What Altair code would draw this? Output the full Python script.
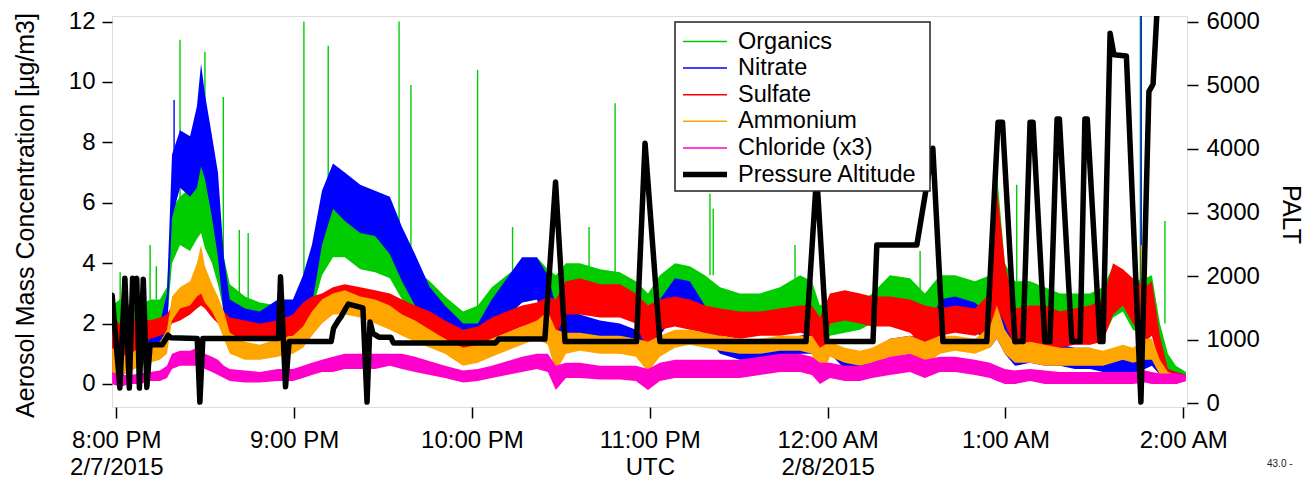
import json
import altair as alt
import pandas as pd

FONT = "Liberation Sans"

# Time axis: minutes after 8:00 PM UTC on 2/7/2015
t_grid = [-1.4, 1.2, 4.6, 8.0, 11.4, 14.7, 17.1, 18.8, 21.5, 24.9,
          27.2, 28.6, 29.9, 32.3, 34.3, 36.3, 38.3, 43.4, 48.4, 54.5,
          59.6, 63.0, 66.0, 69.4, 73.1, 77.1, 82.3, 87.3, 92.3, 96.4,
          100.8, 105.8, 110.9, 117.0, 122.0, 126.7, 131.8, 136.9, 141.9, 145.6,
          148.3, 151.7, 156.4, 163.2, 169.9, 175.3, 179.4, 183.4, 188.5, 193.5,
          198.6, 203.7, 210.4, 217.2, 223.9, 230.7, 234.7, 237.4, 240.8, 245.8,
          250.9, 255.0, 261.0, 267.8, 272.8, 277.9, 283.0, 289.7, 294.8, 297.1,
          299.8, 303.2, 308.3, 313.3, 318.4, 323.4, 328.5, 332.9, 336.3, 339.6,
          343.0, 347.1, 349.4, 352.1, 354.8, 357.5, 360.9]

# Low / high envelope of each noisy mass-concentration record (ug/m3)
org_lo = [1.0, 0.8, 1.0, 1.2, 1.7, 1.8, 2.0, 4.0, 4.6, 4.4,
          4.8, 5.0, 4.5, 4.0, 3.3, 2.4, 1.9, 1.8, 1.7, 1.6,
          1.7, 1.9, 2.4, 3.6, 4.2, 4.2, 3.8, 3.7, 3.5, 2.8,
          2.4, 2.0, 1.6, 1.4, 1.6, 2.0, 2.4, 2.7, 2.8, 2.5,
          2.4, 2.6, 2.8, 2.7, 2.6, 2.0, 1.5, 2.4, 2.8, 2.7,
          2.4, 2.2, 2.0, 2.0, 2.1, 2.3, 2.0, 1.0, 1.6, 1.7,
          1.8, 2.0, 2.3, 2.2, 1.6, 2.4, 2.5, 2.4, 2.2, 2.5,
          1.8, 1.5, 1.4, 1.5, 1.4, 1.4, 1.3, 1.5, 2.2, 2.4,
          1.8, 1.6, 1.8, 0.8, 0.2, 0.0, 0.2]
org_hi = [2.6, 2.8, 2.6, 2.6, 2.8, 2.8, 3.2, 5.8, 6.2, 6.5,
          8.6, 8.9, 8.0, 7.0, 6.0, 4.2, 3.3, 2.9, 2.7, 2.6,
          2.6, 3.0, 4.0, 5.5, 6.5, 6.3, 5.8, 5.5, 5.3, 4.8,
          3.8, 3.4, 2.9, 2.4, 2.6, 3.2, 3.6, 4.0, 4.2, 3.8,
          3.6, 4.0, 4.0, 3.8, 3.7, 3.4, 3.0, 3.6, 4.0, 3.9,
          3.6, 3.2, 3.0, 3.0, 3.2, 3.6, 3.4, 2.6, 2.8, 2.8,
          2.7, 3.0, 3.6, 3.5, 3.0, 3.6, 3.6, 3.4, 3.6, 7.0,
          4.0, 3.4, 3.4, 3.2, 3.0, 3.0, 3.0, 3.2, 3.9, 3.8,
          3.4, 3.5, 3.6, 2.0, 1.0, 0.6, 0.4]

nit_lo = [0.3, 0.2, 0.5, 0.8, 1.3, 1.4, 1.6, 5.5, 6.5, 6.2,
          6.5, 7.2, 6.8, 5.5, 4.2, 2.2, 1.6, 1.5, 1.5, 1.6,
          1.6, 1.6, 2.6, 4.6, 5.8, 5.4, 5.0, 4.9, 4.3, 3.4,
          2.6, 2.0, 1.5, 1.0, 1.1, 1.6, 2.2, 2.7, 2.8, 1.8,
          1.3, 1.4, 1.3, 1.2, 1.0, 1.0, 0.9, 1.6, 2.3, 2.2,
          1.6, 1.0, 0.8, 0.8, 0.9, 1.0, 1.0, 0.6, 1.0, 0.5,
          0.4, 0.6, 1.0, 1.1, 0.6, 1.8, 1.9, 1.8, 1.2, 1.5,
          1.0, 0.6, 0.7, 0.6, 0.6, 0.5, 0.5, 0.4, 0.3, 0.3,
          0.3, 0.5, 0.6, 0.3, 0.2, 0.1, 0.1]
nit_hi = [1.8, 1.6, 1.8, 1.9, 1.9, 2.0, 3.0, 7.6, 8.4, 8.2,
          9.2, 10.6, 9.6, 8.2, 7.0, 4.2, 2.8, 2.5, 2.4, 2.8,
          2.8, 3.6, 4.6, 6.4, 7.3, 7.0, 6.6, 6.4, 6.2, 5.2,
          4.3, 3.2, 2.6, 2.0, 2.0, 2.8, 3.5, 4.2, 4.2, 3.6,
          2.6, 2.5, 2.3, 2.1, 2.0, 1.8, 1.8, 2.8, 3.5, 3.4,
          2.6, 1.6, 1.4, 1.4, 1.5, 1.6, 1.7, 1.4, 1.5, 1.0,
          0.9, 1.1, 1.5, 1.6, 1.5, 2.8, 2.9, 2.7, 2.2, 4.0,
          2.0, 1.6, 1.5, 1.4, 1.3, 1.2, 1.2, 1.0, 0.9, 0.8,
          0.8, 1.2, 1.2, 0.7, 0.5, 0.4, 0.3]

sul_lo = [0.6, 0.5, 0.8, 1.2, 1.5, 1.6, 1.7, 2.0, 2.1, 2.3,
          2.5, 2.6, 2.5, 2.2, 2.0, 1.8, 1.6, 1.5, 1.5, 1.5,
          1.6, 1.8, 2.0, 2.3, 2.4, 2.5, 2.4, 2.3, 2.1, 2.0,
          1.9, 1.7, 1.5, 1.1, 1.2, 1.5, 1.7, 1.9, 2.0, 1.9,
          1.6, 2.3, 2.3, 2.2, 2.2, 2.0, 1.0, 1.8, 1.9, 1.8,
          1.7, 1.6, 1.5, 1.6, 1.6, 1.7, 1.6, 0.4, 2.0, 2.1,
          2.0, 1.9, 1.9, 1.7, 1.2, 1.6, 1.7, 1.6, 1.8, 2.5,
          2.0, 1.2, 1.3, 1.2, 1.2, 1.3, 1.3, 1.4, 2.3, 2.6,
          2.0, 1.4, 1.6, 0.6, 0.1, 0.0, 0.1]
sul_hi = [2.2, 2.0, 2.1, 2.2, 2.1, 2.2, 2.3, 2.6, 2.9, 3.1,
          3.6, 3.9, 3.4, 3.1, 2.8, 2.4, 2.2, 2.1, 2.0, 2.1,
          2.3, 2.7, 2.9, 3.0, 3.2, 3.3, 3.2, 3.1, 3.0, 2.8,
          2.6, 2.4, 2.1, 1.8, 1.9, 2.2, 2.4, 2.6, 2.7, 2.9,
          2.8, 3.4, 3.5, 3.3, 3.3, 3.0, 2.6, 2.8, 2.9, 2.8,
          2.6, 2.5, 2.4, 2.4, 2.5, 2.6, 2.6, 2.2, 3.0, 3.1,
          3.0, 2.9, 2.9, 2.8, 2.6, 2.5, 2.6, 2.5, 3.0, 6.5,
          4.0, 2.5, 2.6, 2.6, 2.4, 2.5, 2.6, 2.8, 4.0, 3.8,
          3.5, 3.2, 3.4, 1.6, 0.5, 0.4, 0.3]

amm_lo = [0.2, 0.3, 0.4, 0.6, 0.7, 0.8, 1.0, 2.1, 2.5, 2.6,
          2.9, 3.0, 2.7, 2.4, 2.0, 1.5, 1.0, 0.8, 0.8, 0.9,
          1.0, 1.2, 1.6, 2.0, 2.3, 2.3, 2.2, 2.0, 1.8, 1.6,
          1.4, 1.2, 1.0, 0.6, 0.7, 0.9, 1.1, 1.3, 1.5, 1.3,
          0.4, 1.0, 1.1, 1.0, 1.0, 0.9, 0.4, 0.9, 1.2, 1.3,
          1.2, 1.1, 1.0, 1.0, 1.1, 1.1, 1.0, 0.1, 0.9, 0.7,
          0.6, 0.7, 0.9, 1.0, 0.6, 1.0, 1.1, 1.0, 1.2, 1.5,
          1.0, 0.7, 0.7, 0.6, 0.6, 0.6, 0.6, 0.6, 0.7, 0.8,
          0.7, 0.8, 0.8, 0.3, 0.1, 0.1, 0.1]
amm_hi = [1.2, 0.9, 1.0, 1.2, 1.3, 1.4, 1.8, 2.9, 3.2, 3.4,
          4.0, 4.6, 3.9, 3.3, 2.9, 2.4, 1.7, 1.4, 1.3, 1.5,
          1.6, 1.9, 2.4, 2.8, 3.0, 3.1, 2.9, 2.8, 2.6, 2.3,
          2.1, 1.8, 1.5, 1.2, 1.3, 1.5, 1.7, 1.9, 2.1, 2.4,
          1.8, 1.7, 1.7, 1.6, 1.6, 1.5, 1.4, 1.6, 1.8, 1.8,
          1.7, 1.6, 1.5, 1.5, 1.6, 1.6, 1.6, 1.2, 1.4, 1.2,
          1.1, 1.2, 1.5, 1.6, 1.4, 1.6, 1.6, 1.5, 1.9, 2.6,
          1.8, 1.3, 1.4, 1.3, 1.2, 1.2, 1.2, 1.1, 1.2, 1.3,
          1.2, 1.5, 1.5, 0.8, 0.4, 0.3, 0.3]

chl_lo = [0.0, -0.1, 0.0, 0.0, 0.1, 0.1, 0.2, 0.5, 0.6, 0.6,
          0.6, 0.6, 0.5, 0.4, 0.3, 0.2, 0.1, 0.05, 0.05, 0.1,
          0.1, 0.2, 0.3, 0.4, 0.4, 0.5, 0.5, 0.5, 0.6, 0.5,
          0.4, 0.3, 0.2, 0.05, 0.1, 0.2, 0.3, 0.4, 0.5, 0.4,
          -0.2, 0.2, 0.2, 0.15, 0.15, 0.1, -0.2, 0.1, 0.2, 0.2,
          0.2, 0.2, 0.2, 0.3, 0.4, 0.4, 0.3, 0.0, 0.2, 0.1,
          0.1, 0.2, 0.3, 0.4, 0.2, 0.4, 0.4, 0.3, 0.2, 0.1,
          0.0, 0.0, 0.1, 0.0, 0.0, 0.0, 0.0, 0.0, 0.0, 0.0,
          0.0, 0.05, 0.0, 0.0, 0.0, 0.0, 0.1]
chl_hi = [0.4, 0.3, 0.3, 0.35, 0.4, 0.45, 0.6, 1.0, 1.1, 1.1,
          1.2, 1.2, 1.0, 0.9, 0.8, 0.6, 0.5, 0.45, 0.4, 0.5,
          0.5, 0.6, 0.7, 0.8, 0.9, 1.0, 1.0, 1.0, 1.0, 1.0,
          0.9, 0.75, 0.6, 0.45, 0.5, 0.6, 0.75, 0.9, 1.0, 1.0,
          0.6, 0.7, 0.7, 0.6, 0.6, 0.6, 0.5, 0.7, 0.8, 0.8,
          0.8, 0.8, 0.8, 0.9, 1.0, 1.0, 0.9, 0.7, 0.7, 0.6,
          0.6, 0.7, 0.9, 1.0, 0.8, 0.9, 0.9, 0.8, 0.7, 0.6,
          0.5, 0.45, 0.5, 0.45, 0.4, 0.4, 0.4, 0.4, 0.4, 0.4,
          0.4, 0.45, 0.4, 0.35, 0.35, 0.35, 0.3]

# Single-sample spikes (time, base, top)
org_spike_t = [1.3, 11.4, 13.5, 21.5, 29.9, 36.1, 41.5, 44.5, 63.3, 71.5,
               95.4, 99.4, 121.9, 133.7, 159.5, 168.3, 200.3, 201.4, 229.0, 271.2,
               303.8, 345.5, 353.8]
org_spike_top = [3.7, 4.6, 3.9, 11.4, 11.0, 9.5, 5.1, 5.0, 12.0, 11.2,
                 12.0, 9.9, 10.4, 5.2, 5.2, 9.3, 6.3, 5.8, 4.6, 4.4,
                 6.6, 12.2, 5.4]
org_spike_base = [2.5, 2.8, 2.8, 6.0, 8.0, 4.0, 2.9, 2.8, 2.8, 6.0,
                  4.5, 3.8, 2.5, 3.5, 3.8, 3.7, 3.6, 3.6, 3.5, 3.0,
                  3.4, 3.4, 2.0]
nit_spike_t = [19.5, 345.8]
nit_spike_top = [9.4, 12.3]
nit_spike_base = [7.5, 1.0]
amm_spike_t = [345.9]
amm_spike_top = [4.6]
amm_spike_base = [1.2]

# Pressure altitude (m)
alt_t = [-1.4, 1.2, 2.9, 4.4, 5.5, 6.2, 6.9, 7.8, 9.1, 10.3,
         11.4, 15.5, 17.5, 18.5, 27.3, 28.2, 29.2, 54.7, 55.4, 57.1,
         58.3, 72.5, 73.3, 75.0, 75.8, 77.5, 78.3, 83.2, 84.6, 85.6,
         86.6, 88.6, 92.6, 93.5, 128.0, 129.0, 144.6, 148.2, 151.4, 175.5,
         178.4, 183.4, 232.7, 236.3, 239.7, 255.3, 256.6, 270.1, 275.5, 278.9,
         293.7, 297.5, 299.0, 303.2, 305.9, 308.3, 309.3, 313.3, 315.0, 317.4,
         318.2, 322.4, 325.2, 326.8, 327.6, 331.9, 332.9, 335.3, 336.6, 340.8,
         345.7, 348.4, 349.8, 351.4]
alt_v = [1700, 240, 1965, 240, 1965, 1850, 1965, 240, 1950, 250,
         920, 920, 1070, 1030, 1020, 20, 1020, 1020, 1990, 260,
         970, 970, 1180, 1310, 1360, 1500, 1560, 1500, 20, 1280,
         1100, 1040, 1040, 950, 950, 1010, 1010, 3480, 970, 970,
         4090, 970, 970, 3600, 970, 970, 2490, 2490, 4010, 970,
         970, 4420, 4420, 970, 970, 4420, 4420, 970, 970, 4470,
         4470, 970, 970, 4470, 4470, 970, 970, 5820, 5480, 5460,
         20, 4900, 5020, 6400]

legend_names = ["Organics", "Nitrate", "Sulfate", "Ammonium", "Chloride (x3)",
                "Pressure Altitude"]
legend_colors = ["#00cc00", "#0000ff", "#ff0000", "#ffa500", "#ff00cc", "#000000"]
legend_widths = [1.5, 1.5, 1.5, 1.5, 1.5, 5.5]

tick_times = ["8:00 PM", "9:00 PM", "10:00 PM", "11:00 PM", "12:00 AM", "1:00 AM", "2:00 AM"]
tick_dates = ["2/7/2015", "", "", "UTC", "2/8/2015", "", ""]

# ---- layout (pixels) ----
W, H = 1075, 391
PAD = {"left": 112, "top": 16, "right": 117, "bottom": 73}
X_DOMAIN = [-1.45, 361.25]
C_DOMAIN = [-0.762, 12.185]
A_DOMAIN = [-58, 6090]

tick_lines = [[a, b] if b else [a] for a, b in zip(tick_times, tick_dates)]
x_label_expr = json.dumps(tick_lines) + "[round(datum.value / 60)]"

x_enc = alt.X(
    "t:Q",
    title=None,
    scale=alt.Scale(domain=X_DOMAIN, nice=False, zero=False),
    axis=alt.Axis(values=[0, 60, 120, 180, 240, 300, 360], labelExpr=x_label_expr,
                  tickSize=11, tickWidth=1.5, tickColor="#000", domain=False, grid=False,
                  labelFontSize=24, labelFont=FONT, labelColor="#000", labelPadding=10,
                  labelLineHeight=27, labelBaseline="top", labelOverlap=False,
                  labelFlush=False, labelBound=False),
)

c_axis = alt.Axis(values=[0, 2, 4, 6, 8, 10, 12], tickSize=10, tickWidth=1.5, tickColor="#000",
                  domain=False, grid=False, labelFontSize=24, labelFont=FONT, labelColor="#000",
                  labelPadding=7, orient="left",
                  title="Aerosol Mass Concentration [µg/m3]", titleFont=FONT, titleFontSize=25,
                  titleFontWeight="normal", titleColor="#000", titleAngle=270, titleX=-79,
                  titleY=199, titleAlign="center", titleBaseline="alphabetic")
c_scale = alt.Scale(domain=C_DOMAIN, nice=False, zero=False)


def band(lo, hi, color):
    df = pd.DataFrame({"t": t_grid, "lo": lo, "hi": hi})
    return alt.Chart(df).mark_area(color=color, opacity=1, clip=True).encode(
        x=x_enc,
        y=alt.Y("lo:Q", scale=c_scale, axis=c_axis),
        y2="hi:Q",
    )


def spikes(ts, base, top, color):
    df = pd.DataFrame({"t": ts, "base": base, "top": top})
    return alt.Chart(df).mark_rule(color=color, strokeWidth=1.4, clip=True).encode(
        x=x_enc,
        y=alt.Y("base:Q", scale=c_scale, axis=c_axis),
        y2="top:Q",
    )


conc = alt.layer(
    band(org_lo, org_hi, legend_colors[0]),
    spikes(org_spike_t, org_spike_base, org_spike_top, legend_colors[0]),
    band(nit_lo, nit_hi, legend_colors[1]),
    spikes(nit_spike_t, nit_spike_base, nit_spike_top, legend_colors[1]),
    band(sul_lo, sul_hi, legend_colors[2]),
    band(amm_lo, amm_hi, legend_colors[3]),
    spikes(amm_spike_t, amm_spike_base, amm_spike_top, legend_colors[3]),
    band(chl_lo, chl_hi, legend_colors[4]),
)

palt = alt.Chart(pd.DataFrame({"t": alt_t, "palt": alt_v})).mark_line(
    color="#000", strokeWidth=5.5, strokeJoin="round", strokeCap="round", clip=True
).encode(
    x=x_enc,
    y=alt.Y("palt:Q", scale=alt.Scale(domain=A_DOMAIN, nice=False, zero=False),
            axis=alt.Axis(orient="right", values=[0, 1000, 2000, 3000, 4000, 5000, 6000],
                          format="d",
                          tickSize=11, tickWidth=1.5, tickColor="#000", domain=False, grid=False,
                          labelFontSize=24, labelFont=FONT, labelColor="#000", labelPadding=8,
                          title="PALT", titleFont=FONT, titleFontSize=25,
                          titleFontWeight="normal", titleColor="#000", titleAngle=90,
                          titleX=95, titleY=198, titleAlign="center",
                          titleBaseline="alphabetic")),
)

# ---- legend box ----
one = pd.DataFrame({"k": [0]})
LEG_X0, LEG_X1, LEG_Y0, LEG_Y1 = 563, 818, 6, 175
ROW0, ROW_STEP = 25.5, 26.6
legend_layers = [
    alt.Chart(one).mark_rect(fill="white", stroke="#222", strokeWidth=1.5).encode(
        x=alt.value(LEG_X0), x2=alt.value(LEG_X1), y=alt.value(LEG_Y0), y2=alt.value(LEG_Y1))
]
for i, (name, col, w) in enumerate(zip(legend_names, legend_colors, legend_widths)):
    yy = ROW0 + i * ROW_STEP
    legend_layers.append(
        alt.Chart(one).mark_rule(color=col, strokeWidth=w).encode(
            x=alt.value(571), x2=alt.value(615), y=alt.value(yy)))
    legend_layers.append(
        alt.Chart(one).mark_text(text=name, align="left", baseline="middle", font=FONT,
                                 fontSize=23.5, color="#000").encode(
            x=alt.value(626), y=alt.value(yy)))

footnote = alt.Chart(one).mark_text(text="43.0 -", align="left", baseline="alphabetic",
                                     font=FONT, fontSize=10, color="#222").encode(
    x=alt.value(1155), y=alt.value(451))

chart = alt.layer(conc, palt, *legend_layers, footnote).resolve_scale(
    y="independent"
).properties(
    width=W, height=H,
    autosize=alt.AutoSizeParams(type="none"),
    padding=PAD,
).configure_view(stroke="#222", strokeWidth=1.5).configure(background="white")

chart.save("out.html", embed_options={"renderer": "svg", "actions": False})
